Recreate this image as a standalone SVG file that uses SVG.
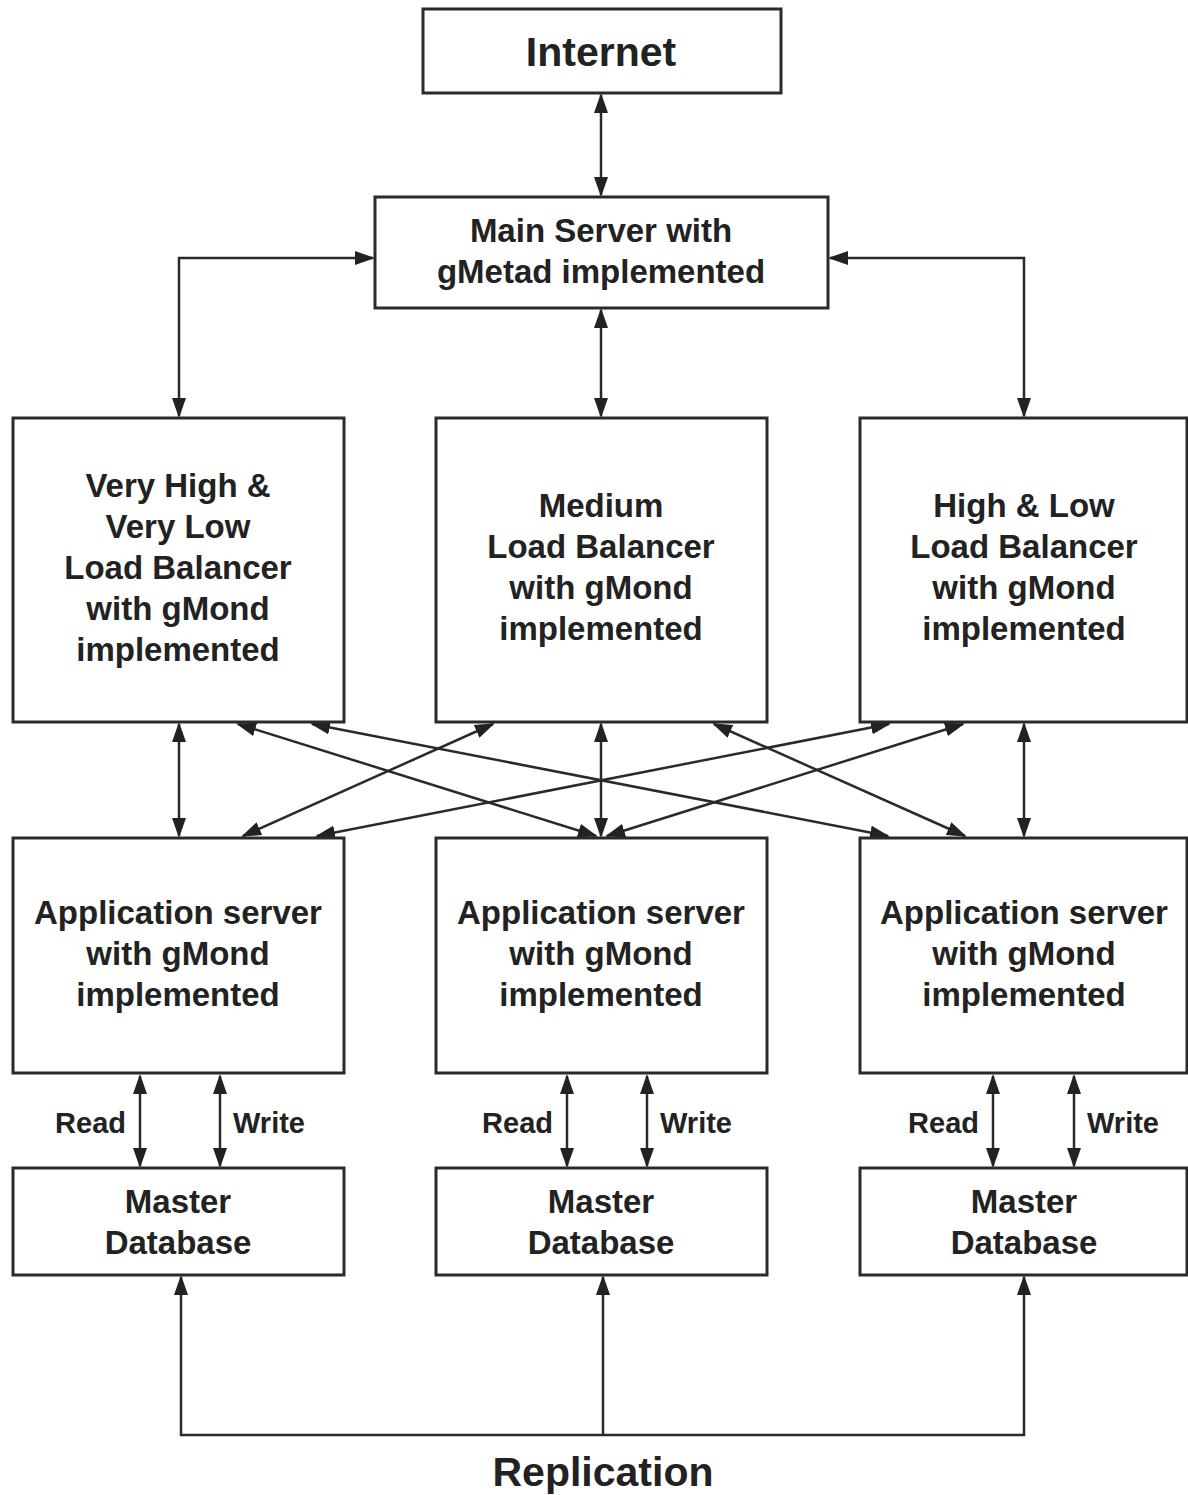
<svg xmlns="http://www.w3.org/2000/svg" width="1188" height="1495" viewBox="0 0 1188 1495">
<style>
.box{fill:#fff;stroke:#2a2a2a;stroke-width:3}
.t{font-family:"Liberation Sans",Arial,sans-serif;font-weight:bold;fill:#222;text-anchor:middle}
.m{font-size:33px}
.c{fill:none;stroke:#2a2a2a;stroke-width:2.5}
</style>
<defs>
<marker id="ah" markerUnits="userSpaceOnUse" markerWidth="20" markerHeight="14" refX="18" refY="7" orient="auto-start-reverse" viewBox="0 0 20 14">
<path d="M0,0 L20,7 L0,14 Z" fill="#222"/>
</marker>
</defs>
<rect width="1188" height="1495" fill="#fff"/>
<g id="connectors">
<line class="c" x1="601" y1="95" x2="601" y2="195" marker-start="url(#ah)" marker-end="url(#ah)"/>
<polyline class="c" points="373,258 179,258 179,416" marker-start="url(#ah)" marker-end="url(#ah)"/>
<polyline class="c" points="830,258 1024,258 1024,416" marker-start="url(#ah)" marker-end="url(#ah)"/>
<line class="c" x1="601" y1="310" x2="601" y2="416" marker-start="url(#ah)" marker-end="url(#ah)"/>
<line class="c" x1="179" y1="724" x2="179" y2="836" marker-start="url(#ah)" marker-end="url(#ah)"/>
<line class="c" x1="601" y1="724" x2="601" y2="836" marker-start="url(#ah)" marker-end="url(#ah)"/>
<line class="c" x1="1024" y1="724" x2="1024" y2="836" marker-start="url(#ah)" marker-end="url(#ah)"/>
<line class="c" x1="238" y1="724" x2="596" y2="836" marker-start="url(#ah)" marker-end="url(#ah)"/>
<line class="c" x1="312" y1="724" x2="888" y2="836" marker-start="url(#ah)" marker-end="url(#ah)"/>
<line class="c" x1="493" y1="724" x2="243" y2="836" marker-start="url(#ah)" marker-end="url(#ah)"/>
<line class="c" x1="714" y1="724" x2="965" y2="836" marker-start="url(#ah)" marker-end="url(#ah)"/>
<line class="c" x1="889" y1="724" x2="317" y2="836" marker-start="url(#ah)" marker-end="url(#ah)"/>
<line class="c" x1="963" y1="724" x2="607" y2="836" marker-start="url(#ah)" marker-end="url(#ah)"/>
<line class="c" x1="140" y1="1076" x2="140" y2="1166" marker-start="url(#ah)" marker-end="url(#ah)"/>
<line class="c" x1="220" y1="1076" x2="220" y2="1166" marker-start="url(#ah)" marker-end="url(#ah)"/>
<line class="c" x1="567" y1="1076" x2="567" y2="1166" marker-start="url(#ah)" marker-end="url(#ah)"/>
<line class="c" x1="647" y1="1076" x2="647" y2="1166" marker-start="url(#ah)" marker-end="url(#ah)"/>
<line class="c" x1="993" y1="1076" x2="993" y2="1166" marker-start="url(#ah)" marker-end="url(#ah)"/>
<line class="c" x1="1074" y1="1076" x2="1074" y2="1166" marker-start="url(#ah)" marker-end="url(#ah)"/>
<polyline class="c" points="181,1277 181,1435 1024,1435 1024,1277" marker-start="url(#ah)" marker-end="url(#ah)"/>
<line class="c" x1="603" y1="1435" x2="603" y2="1277" marker-end="url(#ah)"/>
<text class="t" x="126" y="1133" style="font-size:29px;text-anchor:end">Read</text>
<text class="t" x="233" y="1133" style="font-size:29px;text-anchor:start">Write</text>
<text class="t" x="553" y="1133" style="font-size:29px;text-anchor:end">Read</text>
<text class="t" x="660" y="1133" style="font-size:29px;text-anchor:start">Write</text>
<text class="t" x="979" y="1133" style="font-size:29px;text-anchor:end">Read</text>
<text class="t" x="1087" y="1133" style="font-size:29px;text-anchor:start">Write</text>
<text class="t" x="603" y="1486" style="font-size:41px">Replication</text>
</g>
<g id="internet">
<rect class="box" x="423" y="9" width="358" height="84"/>
<text class="t" x="601" y="66" style="font-size:41px">Internet</text>
</g>
<g id="main-server">
<rect class="box" x="375" y="197" width="453" height="111"/>
<text class="t m" x="601" y="242">Main Server with</text>
<text class="t m" x="601" y="283">gMetad implemented</text>
</g>
<g id="lb-left">
<rect class="box" x="13" y="418" width="331" height="304"/>
<text class="t m" x="178" y="497">Very High &amp;</text>
<text class="t m" x="178" y="538">Very Low</text>
<text class="t m" x="178" y="579">Load Balancer</text>
<text class="t m" x="178" y="620">with gMond</text>
<text class="t m" x="178" y="661">implemented</text>
</g>
<g id="lb-mid">
<rect class="box" x="436" y="418" width="331" height="304"/>
<text class="t m" x="601" y="517">Medium</text>
<text class="t m" x="601" y="558">Load Balancer</text>
<text class="t m" x="601" y="599">with gMond</text>
<text class="t m" x="601" y="640">implemented</text>
</g>
<g id="lb-right">
<rect class="box" x="860" y="418" width="327" height="304"/>
<text class="t m" x="1024" y="517">High &amp; Low</text>
<text class="t m" x="1024" y="558">Load Balancer</text>
<text class="t m" x="1024" y="599">with gMond</text>
<text class="t m" x="1024" y="640">implemented</text>
</g>
<g id="app-left">
<rect class="box" x="13" y="838" width="331" height="235"/>
<text class="t m" x="178" y="924">Application server</text>
<text class="t m" x="178" y="965">with gMond</text>
<text class="t m" x="178" y="1006">implemented</text>
</g>
<g id="app-mid">
<rect class="box" x="436" y="838" width="331" height="235"/>
<text class="t m" x="601" y="924">Application server</text>
<text class="t m" x="601" y="965">with gMond</text>
<text class="t m" x="601" y="1006">implemented</text>
</g>
<g id="app-right">
<rect class="box" x="860" y="838" width="327" height="235"/>
<text class="t m" x="1024" y="924">Application server</text>
<text class="t m" x="1024" y="965">with gMond</text>
<text class="t m" x="1024" y="1006">implemented</text>
</g>
<g id="db-left">
<rect class="box" x="13" y="1168" width="331" height="107"/>
<text class="t m" x="178" y="1213">Master</text>
<text class="t m" x="178" y="1254">Database</text>
</g>
<g id="db-mid">
<rect class="box" x="436" y="1168" width="331" height="107"/>
<text class="t m" x="601" y="1213">Master</text>
<text class="t m" x="601" y="1254">Database</text>
</g>
<g id="db-right">
<rect class="box" x="860" y="1168" width="327" height="107"/>
<text class="t m" x="1024" y="1213">Master</text>
<text class="t m" x="1024" y="1254">Database</text>
</g>
</svg>
